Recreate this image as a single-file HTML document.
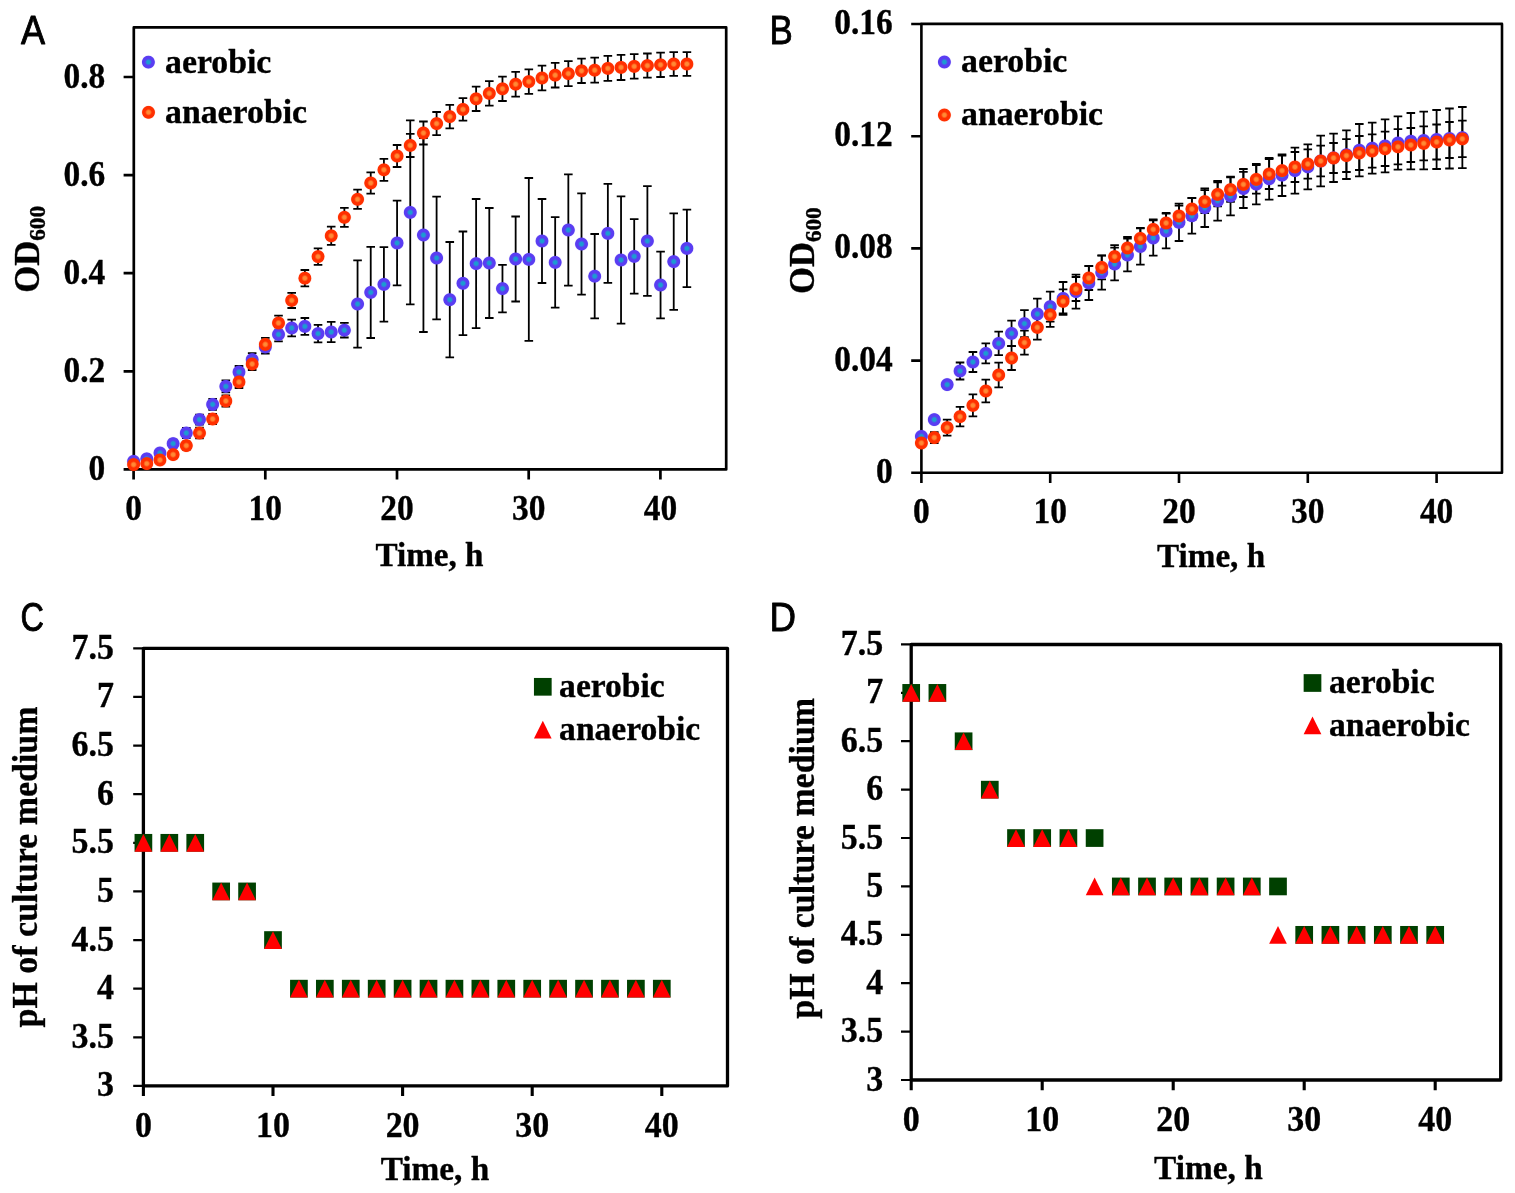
<!DOCTYPE html>
<html lang="en"><head><meta charset="utf-8">
<title>Growth curves and pH of culture medium under aerobic and anaerobic conditions</title>
<style>
html,body{margin:0;padding:0;background:#fff;}
body{width:1515px;height:1193px;overflow:hidden;}
svg{display:block;}
.tk{font-family:"Liberation Serif", "DejaVu Serif", serif;font-weight:bold;fill:#000;stroke:#000;stroke-width:0.35px;stroke-linejoin:round;}
.lb{font-family:"Liberation Sans", "DejaVu Sans", sans-serif;font-weight:normal;fill:#000;stroke:#000;stroke-width:0.9px;stroke-linejoin:round;stroke-linecap:round;}
</style></head><body>
<svg width="1515" height="1193" viewBox="0 0 1515 1193">
<defs>
<radialGradient id="gb" cx="0.5" cy="0.5" r="0.5">
<stop offset="0" stop-color="#189fd0" stop-opacity="1"/>
<stop offset="0.24" stop-color="#1e9ad2" stop-opacity="1"/>
<stop offset="0.5" stop-color="#5a3df2" stop-opacity="1"/>
<stop offset="0.86" stop-color="#5a3df2" stop-opacity="1"/>
<stop offset="1" stop-color="#5a3df2" stop-opacity="0.15"/>
</radialGradient>
<radialGradient id="go" cx="0.5" cy="0.5" r="0.5">
<stop offset="0" stop-color="#ff8c38" stop-opacity="1"/>
<stop offset="0.24" stop-color="#ff8632" stop-opacity="1"/>
<stop offset="0.5" stop-color="#ff3000" stop-opacity="1"/>
<stop offset="0.86" stop-color="#ff3000" stop-opacity="1"/>
<stop offset="1" stop-color="#ff3000" stop-opacity="0.15"/>
</radialGradient>
</defs>
<rect width="1515" height="1193" fill="#fff"/>
<g id="panelA">
<rect x="133.8" y="27.4" width="592.4" height="442" fill="none" stroke="#000" stroke-width="2.7" stroke-linejoin="round"/>
<path d="M133.6 469.4V479.6M265.3 469.4V479.6M397 469.4V479.6M528.7 469.4V479.6M660.4 469.4V479.6" fill="none" stroke="#000" stroke-width="2.7"/>
<path d="M133.8 469.4H123.6M133.8 371.3H123.6M133.8 273.2H123.6M133.8 175.1H123.6M133.8 77H123.6" fill="none" stroke="#000" stroke-width="2.7"/>
<g class="tk" text-anchor="middle" font-size="35">
<text transform="translate(133.6 519.5) scale(0.955 1)">0</text>
<text transform="translate(265.3 519.5) scale(0.955 1)">10</text>
<text transform="translate(397 519.5) scale(0.955 1)">20</text>
<text transform="translate(528.7 519.5) scale(0.955 1)">30</text>
<text transform="translate(660.4 519.5) scale(0.955 1)">40</text>
</g>
<g class="tk" text-anchor="end" font-size="35">
<text transform="translate(105.2 480) scale(0.955 1)">0</text>
<text transform="translate(105.2 381.9) scale(0.955 1)">0.2</text>
<text transform="translate(105.2 283.8) scale(0.955 1)">0.4</text>
<text transform="translate(105.2 185.7) scale(0.955 1)">0.6</text>
<text transform="translate(105.2 87.6) scale(0.955 1)">0.8</text>
</g>
<text class="tk" text-anchor="middle" font-size="33.5" transform="translate(429.5 566) scale(0.99 1)">Time, h</text>
<text class="tk" text-anchor="middle" font-size="35.5" transform="translate(38.5 249.3) rotate(-90) scale(0.975 1)">OD<tspan font-size="67%" dy="6.8">600</tspan></text>
<text class="lb" font-size="40.8" transform="translate(21.1 43.8) scale(0.885 1)">A</text>
<path d="M133.6 459.3V463.3M129.3 459.3H137.9M129.3 463.3H137.9M146.77 456.8V460.8M142.47 456.8H151.07M142.47 460.8H151.07M159.95 450V456M155.65 450H164.25M155.65 456H164.25M173.12 439.6V447.6M168.82 439.6H177.42M168.82 447.6H177.42M186.3 428V438M182 428H190.6M182 438H190.6M199.47 414.6V424.6M195.17 414.6H203.77M195.17 424.6H203.77M212.64 398.9V409.9M208.34 398.9H216.94M208.34 409.9H216.94M225.82 380.4V392.4M221.52 380.4H230.12M221.52 392.4H230.12M238.99 366V378M234.69 366H243.29M234.69 378H243.29M252.17 353.1V366.1M247.87 353.1H256.47M247.87 366.1H256.47M265.34 340.5V353.5M261.04 340.5H269.64M261.04 353.5H269.64M278.51 327.4V341.4M274.21 327.4H282.81M274.21 341.4H282.81M291.69 319.7V336.3M287.39 319.7H295.99M287.39 336.3H295.99M304.86 318V334.8M300.56 318H309.16M300.56 334.8H309.16M318.04 324.8V342.4M313.74 324.8H322.34M313.74 342.4H322.34M331.21 321.8V342.2M326.91 321.8H335.51M326.91 342.2H335.51M344.38 322.9V337.5M340.08 322.9H348.68M340.08 337.5H348.68M357.56 260.3V347.7M353.26 260.3H361.86M353.26 347.7H361.86M370.73 246.8V338M366.43 246.8H375.03M366.43 338H375.03M383.91 247.2V321.6M379.61 247.2H388.21M379.61 321.6H388.21M397.08 200.6V285.4M392.78 200.6H401.38M392.78 285.4H401.38M410.25 120.4V304.4M405.95 120.4H414.55M405.95 304.4H414.55M423.43 138V332M419.13 138H427.73M419.13 332H427.73M436.6 196.7V319.3M432.3 196.7H440.9M432.3 319.3H440.9M449.78 242V357.4M445.48 242H454.08M445.48 357.4H454.08M462.95 231.5V335.1M458.65 231.5H467.25M458.65 335.1H467.25M476.12 199V328.2M471.82 199H480.42M471.82 328.2H480.42M489.3 208V318M485 208H493.6M485 318H493.6M502.47 264.8V312.4M498.17 264.8H506.77M498.17 312.4H506.77M515.65 216.5V301.5M511.35 216.5H519.95M511.35 301.5H519.95M528.82 178V340.8M524.52 178H533.12M524.52 340.8H533.12M541.99 199V283M537.69 199H546.29M537.69 283H546.29M555.17 217.1V307.7M550.87 217.1H559.47M550.87 307.7H559.47M568.34 174.4V285.6M564.04 174.4H572.64M564.04 285.6H572.64M581.52 193.3V294.7M577.22 193.3H585.82M577.22 294.7H585.82M594.69 234V318.4M590.39 234H598.99M590.39 318.4H598.99M607.86 183.9V282.9M603.56 183.9H612.16M603.56 282.9H612.16M621.04 196.4V323.6M616.74 196.4H625.34M616.74 323.6H625.34M634.21 219.1V293.7M629.91 219.1H638.51M629.91 293.7H638.51M647.39 186.1V295.9M643.09 186.1H651.69M643.09 295.9H651.69M660.56 251.7V318.3M656.26 251.7H664.86M656.26 318.3H664.86M673.73 213.4V309.8M669.43 213.4H678.03M669.43 309.8H678.03M686.91 209.6V287.2M682.61 209.6H691.21M682.61 287.2H691.21" fill="none" stroke="#000" stroke-width="1.8"/>
<path d="M133.6 462.6V466.6M129.3 462.6H137.9M129.3 466.6H137.9M146.77 461.6V465.6M142.47 461.6H151.07M142.47 465.6H151.07M159.95 457.5V462.5M155.65 457.5H164.25M155.65 462.5H164.25M173.12 451.6V457.6M168.82 451.6H177.42M168.82 457.6H177.42M186.3 441.6V449.6M182 441.6H190.6M182 449.6H190.6M199.47 427.6V438.4M195.17 427.6H203.77M195.17 438.4H203.77M212.64 414V424M208.34 414H216.94M208.34 424H216.94M225.82 395.4V406.6M221.52 395.4H230.12M221.52 406.6H230.12M238.99 376V388M234.69 376H243.29M234.69 388H243.29M252.17 358V370M247.87 358H256.47M247.87 370H256.47M265.34 337.9V350.9M261.04 337.9H269.64M261.04 350.9H269.64M278.51 315.6V330.4M274.21 315.6H282.81M274.21 330.4H282.81M291.69 292.8V308M287.39 292.8H295.99M287.39 308H295.99M304.86 270V286.4M300.56 270H309.16M300.56 286.4H309.16M318.04 248.4V264.8M313.74 248.4H322.34M313.74 264.8H322.34M331.21 226.7V244.9M326.91 226.7H335.51M326.91 244.9H335.51M344.38 207.8V226.8M340.08 207.8H348.68M340.08 226.8H348.68M357.56 189.7V208.9M353.26 189.7H361.86M353.26 208.9H361.86M370.73 172.3V193.7M366.43 172.3H375.03M366.43 193.7H375.03M383.91 158.8V180.8M379.61 158.8H388.21M379.61 180.8H388.21M397.08 145V167M392.78 145H401.38M392.78 167H401.38M410.25 133.8V157M405.95 133.8H414.55M405.95 157H414.55M423.43 121.5V144.5M419.13 121.5H427.73M419.13 144.5H427.73M436.6 112V135.2M432.3 112H440.9M432.3 135.2H440.9M449.78 104.8V128.4M445.48 104.8H454.08M445.48 128.4H454.08M462.95 98.1V120.7M458.65 98.1H467.25M458.65 120.7H467.25M476.12 86.6V111M471.82 86.6H480.42M471.82 111H480.42M489.3 81.2V105.6M485 81.2H493.6M485 105.6H493.6M502.47 76.6V101M498.17 76.6H506.77M498.17 101H506.77M515.65 71.8V96.6M511.35 71.8H519.95M511.35 96.6H519.95M528.82 69.4V93.8M524.52 69.4H533.12M524.52 93.8H533.12M541.99 65.6V90.4M537.69 65.6H546.29M537.69 90.4H546.29M555.17 62.9V87.5M550.87 62.9H559.47M550.87 87.5H559.47M568.34 61.1V86.1M564.04 61.1H572.64M564.04 86.1H572.64M581.52 58.6V83M577.22 58.6H585.82M577.22 83H585.82M594.69 57.7V82.7M590.39 57.7H598.99M590.39 82.7H598.99M607.86 55.9V80.9M603.56 55.9H612.16M603.56 80.9H612.16M621.04 54.8V80M616.74 54.8H625.34M616.74 80H625.34M634.21 54.2V78.6M629.91 54.2H638.51M629.91 78.6H638.51M647.39 53.5V77.7M643.09 53.5H651.69M643.09 77.7H651.69M660.56 52.6V77M656.26 52.6H664.86M656.26 77H664.86M673.73 52.2V75.8M669.43 52.2H678.03M669.43 75.8H678.03M686.91 52.2V75.8M682.61 52.2H691.21M682.61 75.8H691.21" fill="none" stroke="#000" stroke-width="1.8"/>
<g fill="url(#gb)">
<circle cx="133.6" cy="461.3" r="6.9"/>
<circle cx="146.77" cy="458.8" r="6.9"/>
<circle cx="159.95" cy="453" r="6.9"/>
<circle cx="173.12" cy="443.6" r="6.9"/>
<circle cx="186.3" cy="433" r="6.9"/>
<circle cx="199.47" cy="419.6" r="6.9"/>
<circle cx="212.64" cy="404.4" r="6.9"/>
<circle cx="225.82" cy="386.4" r="6.9"/>
<circle cx="238.99" cy="372" r="6.9"/>
<circle cx="252.17" cy="359.6" r="6.9"/>
<circle cx="265.34" cy="347" r="6.9"/>
<circle cx="278.51" cy="334.4" r="6.9"/>
<circle cx="291.69" cy="328" r="6.9"/>
<circle cx="304.86" cy="326.4" r="6.9"/>
<circle cx="318.04" cy="333.6" r="6.9"/>
<circle cx="331.21" cy="332" r="6.9"/>
<circle cx="344.38" cy="330.2" r="6.9"/>
<circle cx="357.56" cy="304" r="6.9"/>
<circle cx="370.73" cy="292.4" r="6.9"/>
<circle cx="383.91" cy="284.4" r="6.9"/>
<circle cx="397.08" cy="243" r="6.9"/>
<circle cx="410.25" cy="212.4" r="6.9"/>
<circle cx="423.43" cy="235" r="6.9"/>
<circle cx="436.6" cy="258" r="6.9"/>
<circle cx="449.78" cy="299.7" r="6.9"/>
<circle cx="462.95" cy="283.3" r="6.9"/>
<circle cx="476.12" cy="263.6" r="6.9"/>
<circle cx="489.3" cy="263" r="6.9"/>
<circle cx="502.47" cy="288.6" r="6.9"/>
<circle cx="515.65" cy="259" r="6.9"/>
<circle cx="528.82" cy="259.4" r="6.9"/>
<circle cx="541.99" cy="241" r="6.9"/>
<circle cx="555.17" cy="262.4" r="6.9"/>
<circle cx="568.34" cy="230" r="6.9"/>
<circle cx="581.52" cy="244" r="6.9"/>
<circle cx="594.69" cy="276.2" r="6.9"/>
<circle cx="607.86" cy="233.4" r="6.9"/>
<circle cx="621.04" cy="260" r="6.9"/>
<circle cx="634.21" cy="256.4" r="6.9"/>
<circle cx="647.39" cy="241" r="6.9"/>
<circle cx="660.56" cy="285" r="6.9"/>
<circle cx="673.73" cy="261.6" r="6.9"/>
<circle cx="686.91" cy="248.4" r="6.9"/>
</g>
<g fill="url(#go)">
<circle cx="133.6" cy="464.6" r="6.9"/>
<circle cx="146.77" cy="463.6" r="6.9"/>
<circle cx="159.95" cy="460" r="6.9"/>
<circle cx="173.12" cy="454.6" r="6.9"/>
<circle cx="186.3" cy="445.6" r="6.9"/>
<circle cx="199.47" cy="433" r="6.9"/>
<circle cx="212.64" cy="419" r="6.9"/>
<circle cx="225.82" cy="401" r="6.9"/>
<circle cx="238.99" cy="382" r="6.9"/>
<circle cx="252.17" cy="364" r="6.9"/>
<circle cx="265.34" cy="344.4" r="6.9"/>
<circle cx="278.51" cy="323" r="6.9"/>
<circle cx="291.69" cy="300.4" r="6.9"/>
<circle cx="304.86" cy="278.2" r="6.9"/>
<circle cx="318.04" cy="256.6" r="6.9"/>
<circle cx="331.21" cy="235.8" r="6.9"/>
<circle cx="344.38" cy="217.3" r="6.9"/>
<circle cx="357.56" cy="199.3" r="6.9"/>
<circle cx="370.73" cy="183" r="6.9"/>
<circle cx="383.91" cy="169.8" r="6.9"/>
<circle cx="397.08" cy="156" r="6.9"/>
<circle cx="410.25" cy="145.4" r="6.9"/>
<circle cx="423.43" cy="133" r="6.9"/>
<circle cx="436.6" cy="123.6" r="6.9"/>
<circle cx="449.78" cy="116.6" r="6.9"/>
<circle cx="462.95" cy="109.4" r="6.9"/>
<circle cx="476.12" cy="98.8" r="6.9"/>
<circle cx="489.3" cy="93.4" r="6.9"/>
<circle cx="502.47" cy="88.8" r="6.9"/>
<circle cx="515.65" cy="84.2" r="6.9"/>
<circle cx="528.82" cy="81.6" r="6.9"/>
<circle cx="541.99" cy="78" r="6.9"/>
<circle cx="555.17" cy="75.2" r="6.9"/>
<circle cx="568.34" cy="73.6" r="6.9"/>
<circle cx="581.52" cy="70.8" r="6.9"/>
<circle cx="594.69" cy="70.2" r="6.9"/>
<circle cx="607.86" cy="68.4" r="6.9"/>
<circle cx="621.04" cy="67.4" r="6.9"/>
<circle cx="634.21" cy="66.4" r="6.9"/>
<circle cx="647.39" cy="65.6" r="6.9"/>
<circle cx="660.56" cy="64.8" r="6.9"/>
<circle cx="673.73" cy="64" r="6.9"/>
<circle cx="686.91" cy="64" r="6.9"/>
</g>
<circle cx="148.4" cy="62.1" r="6.9" fill="url(#gb)"/>
<text class="tk" font-size="33.3" transform="translate(165 72.7) scale(1.015 1)">aerobic</text>
<circle cx="148.5" cy="112.3" r="6.9" fill="url(#go)"/>
<text class="tk" font-size="33.3" transform="translate(165 123) scale(1.015 1)">anaerobic</text>
</g>
<g id="panelB">
<rect x="921.4" y="23.9" width="580.6" height="448.9" fill="none" stroke="#000" stroke-width="2.6" stroke-linejoin="round"/>
<path d="M921.4 472.8V483M1050.2 472.8V483M1179 472.8V483M1307.8 472.8V483M1436.6 472.8V483" fill="none" stroke="#000" stroke-width="2.6"/>
<path d="M921.4 472.8H911.2M921.4 360.6H911.2M921.4 248.4H911.2M921.4 136.2H911.2M921.4 24H911.2" fill="none" stroke="#000" stroke-width="2.6"/>
<g class="tk" text-anchor="middle" font-size="35">
<text transform="translate(921.4 522.7) scale(0.955 1)">0</text>
<text transform="translate(1050.2 522.7) scale(0.955 1)">10</text>
<text transform="translate(1179 522.7) scale(0.955 1)">20</text>
<text transform="translate(1307.8 522.7) scale(0.955 1)">30</text>
<text transform="translate(1436.6 522.7) scale(0.955 1)">40</text>
</g>
<g class="tk" text-anchor="end" font-size="35">
<text transform="translate(892.8 482.8) scale(0.955 1)">0</text>
<text transform="translate(892.8 370.6) scale(0.955 1)">0.04</text>
<text transform="translate(892.8 258.4) scale(0.955 1)">0.08</text>
<text transform="translate(892.8 146.2) scale(0.955 1)">0.12</text>
<text transform="translate(892.8 34) scale(0.955 1)">0.16</text>
</g>
<text class="tk" text-anchor="middle" font-size="33.5" transform="translate(1211.1 567.1) scale(0.99 1)">Time, h</text>
<text class="tk" text-anchor="middle" font-size="35.5" transform="translate(814.2 250.7) rotate(-90) scale(0.975 1)">OD<tspan font-size="67%" dy="6.8">600</tspan></text>
<text class="lb" font-size="40.8" transform="translate(769.5 43.5) scale(0.855 1)">B</text>
<path d="M960.04 362.5V379.5M955.74 362.5H964.34M955.74 379.5H964.34M972.92 352V372M968.62 352H977.22M968.62 372H977.22M985.8 343.4V363.4M981.5 343.4H990.1M981.5 363.4H990.1M998.68 331.7V355.1M994.38 331.7H1002.98M994.38 355.1H1002.98M1011.56 320.7V346.1M1007.26 320.7H1015.86M1007.26 346.1H1015.86M1024.44 310.1V337.1M1020.14 310.1H1028.74M1020.14 337.1H1028.74M1037.32 298.6V329.4M1033.02 298.6H1041.62M1033.02 329.4H1041.62M1050.2 291.6V321.6M1045.9 291.6H1054.5M1045.9 321.6H1054.5M1063.08 282V314.8M1058.78 282H1067.38M1058.78 314.8H1067.38M1075.96 274.6V308.6M1071.66 274.6H1080.26M1071.66 308.6H1080.26M1088.84 266V300M1084.54 266H1093.14M1084.54 300H1093.14M1101.72 255.6V289.6M1097.42 255.6H1106.02M1097.42 289.6H1106.02M1114.6 247.6V280.4M1110.3 247.6H1118.9M1110.3 280.4H1118.9M1127.48 238.6V271.4M1123.18 238.6H1131.78M1123.18 271.4H1131.78M1140.36 228.4V264.6M1136.06 228.4H1144.66M1136.06 264.6H1144.66M1153.24 220.4V255.6M1148.94 220.4H1157.54M1148.94 255.6H1157.54M1166.12 213.6V248.4M1161.82 213.6H1170.42M1161.82 248.4H1170.42M1179 203.6V241M1174.7 203.6H1183.3M1174.7 241H1183.3M1191.88 198V233.6M1187.58 198H1196.18M1187.58 233.6H1196.18M1204.76 188.4V227M1200.46 188.4H1209.06M1200.46 227H1209.06M1217.64 181V220.6M1213.34 181H1221.94M1213.34 220.6H1221.94M1230.52 176.6V215.4M1226.22 176.6H1234.82M1226.22 215.4H1234.82M1243.4 169V208M1239.1 169H1247.7M1239.1 208H1247.7M1256.28 164V204.4M1251.98 164H1260.58M1251.98 204.4H1260.58M1269.16 158V199.6M1264.86 158H1273.46M1264.86 199.6H1273.46M1282.04 154.4V196M1277.74 154.4H1286.34M1277.74 196H1286.34M1294.92 147.6V193.6M1290.62 147.6H1299.22M1290.62 193.6H1299.22M1307.8 144.4V189.4M1303.5 144.4H1312.1M1303.5 189.4H1312.1M1320.68 135.6V186.4M1316.38 135.6H1324.98M1316.38 186.4H1324.98M1333.56 133.6V182M1329.26 133.6H1337.86M1329.26 182H1337.86M1346.44 130.4V179M1342.14 130.4H1350.74M1342.14 179H1350.74M1359.32 124V176.4M1355.02 124H1363.62M1355.02 176.4H1363.62M1372.2 122.6V173.6M1367.9 122.6H1376.5M1367.9 173.6H1376.5M1385.08 119.4V172.4M1380.78 119.4H1389.38M1380.78 172.4H1389.38M1397.96 116.4V169.6M1393.66 116.4H1402.26M1393.66 169.6H1402.26M1410.84 113V169.4M1406.54 113H1415.14M1406.54 169.4H1415.14M1423.72 111.6V169.4M1419.42 111.6H1428.02M1419.42 169.4H1428.02M1436.6 110V169M1432.3 110H1440.9M1432.3 169H1440.9M1449.48 108.5V168.5M1445.18 108.5H1453.78M1445.18 168.5H1453.78M1462.36 107V168.2M1458.06 107H1466.66M1458.06 168.2H1466.66" fill="none" stroke="#000" stroke-width="1.8"/>
<path d="M921.4 441V445M917.1 441H925.7M917.1 445H925.7M934.28 432.1V443.1M929.98 432.1H938.58M929.98 443.1H938.58M947.16 419.6V435.6M942.86 419.6H951.46M942.86 435.6H951.46M960.04 406.9V426.3M955.74 406.9H964.34M955.74 426.3H964.34M972.92 394.4V416.4M968.62 394.4H977.22M968.62 416.4H977.22M985.8 379.6V402.4M981.5 379.6H990.1M981.5 402.4H990.1M998.68 362.7V387.3M994.38 362.7H1002.98M994.38 387.3H1002.98M1011.56 346V370M1007.26 346H1015.86M1007.26 370H1015.86M1024.44 330.6V354.6M1020.14 330.6H1028.74M1020.14 354.6H1028.74M1037.32 315.2V339.6M1033.02 315.2H1041.62M1033.02 339.6H1041.62M1050.2 302.8V326.8M1045.9 302.8H1054.5M1045.9 326.8H1054.5M1063.08 289.4V313.4M1058.78 289.4H1067.38M1058.78 313.4H1067.38M1075.96 277V301M1071.66 277H1080.26M1071.66 301H1080.26M1088.84 266V290M1084.54 266H1093.14M1084.54 290H1093.14M1101.72 255.4V279.4M1097.42 255.4H1106.02M1097.42 279.4H1106.02M1114.6 245.1V268.1M1110.3 245.1H1118.9M1110.3 268.1H1118.9M1127.48 237V259M1123.18 237H1131.78M1123.18 259H1131.78M1140.36 227.9V248.9M1136.06 227.9H1144.66M1136.06 248.9H1144.66M1153.24 219.4V239.4M1148.94 219.4H1157.54M1148.94 239.4H1157.54M1166.12 213V233M1161.82 213H1170.42M1161.82 233H1170.42M1179 205.6V226.4M1174.7 205.6H1183.3M1174.7 226.4H1183.3M1191.88 198V220M1187.58 198H1196.18M1187.58 220H1196.18M1204.76 190.1V213.1M1200.46 190.1H1209.06M1200.46 213.1H1209.06M1217.64 182.4V206.4M1213.34 182.4H1221.94M1213.34 206.4H1221.94M1230.52 177.3V201.9M1226.22 177.3H1234.82M1226.22 201.9H1234.82M1243.4 171.8V197M1239.1 171.8H1247.7M1239.1 197H1247.7M1256.28 165.2V193.6M1251.98 165.2H1260.58M1251.98 193.6H1260.58M1269.16 159V189M1264.86 159H1273.46M1264.86 189H1273.46M1282.04 155.6V185.6M1277.74 155.6H1286.34M1277.74 185.6H1286.34M1294.92 152V182M1290.62 152H1299.22M1290.62 182H1299.22M1307.8 149.4V178.6M1303.5 149.4H1312.1M1303.5 178.6H1312.1M1320.68 145.6V176.4M1316.38 145.6H1324.98M1316.38 176.4H1324.98M1333.56 143V173M1329.26 143H1337.86M1329.26 173H1337.86M1346.44 139.2V172M1342.14 139.2H1350.74M1342.14 172H1350.74M1359.32 136V170M1355.02 136H1363.62M1355.02 170H1363.62M1372.2 134.4V167.6M1367.9 134.4H1376.5M1367.9 167.6H1376.5M1385.08 131.6V166M1380.78 131.6H1389.38M1380.78 166H1389.38M1397.96 129.2V164.4M1393.66 129.2H1402.26M1393.66 164.4H1402.26M1410.84 128V162M1406.54 128H1415.14M1406.54 162H1415.14M1423.72 126.4V160.4M1419.42 126.4H1428.02M1419.42 160.4H1428.02M1436.6 124.5V159.5M1432.3 124.5H1440.9M1432.3 159.5H1440.9M1449.48 122V158M1445.18 122H1453.78M1445.18 158H1453.78M1462.36 120.7V157.1M1458.06 120.7H1466.66M1458.06 157.1H1466.66" fill="none" stroke="#000" stroke-width="1.8"/>
<g fill="url(#gb)">
<circle cx="921.4" cy="436.4" r="6.9"/>
<circle cx="934.28" cy="419.6" r="6.9"/>
<circle cx="947.16" cy="384.6" r="6.9"/>
<circle cx="960.04" cy="371" r="6.9"/>
<circle cx="972.92" cy="362" r="6.9"/>
<circle cx="985.8" cy="353.4" r="6.9"/>
<circle cx="998.68" cy="343.4" r="6.9"/>
<circle cx="1011.56" cy="333.4" r="6.9"/>
<circle cx="1024.44" cy="323.6" r="6.9"/>
<circle cx="1037.32" cy="314" r="6.9"/>
<circle cx="1050.2" cy="306.6" r="6.9"/>
<circle cx="1063.08" cy="298.4" r="6.9"/>
<circle cx="1075.96" cy="291.6" r="6.9"/>
<circle cx="1088.84" cy="283" r="6.9"/>
<circle cx="1101.72" cy="272.6" r="6.9"/>
<circle cx="1114.6" cy="264" r="6.9"/>
<circle cx="1127.48" cy="255" r="6.9"/>
<circle cx="1140.36" cy="246.5" r="6.9"/>
<circle cx="1153.24" cy="238" r="6.9"/>
<circle cx="1166.12" cy="231" r="6.9"/>
<circle cx="1179" cy="222.3" r="6.9"/>
<circle cx="1191.88" cy="215.8" r="6.9"/>
<circle cx="1204.76" cy="207.7" r="6.9"/>
<circle cx="1217.64" cy="200.8" r="6.9"/>
<circle cx="1230.52" cy="196" r="6.9"/>
<circle cx="1243.4" cy="188.5" r="6.9"/>
<circle cx="1256.28" cy="184.2" r="6.9"/>
<circle cx="1269.16" cy="178.8" r="6.9"/>
<circle cx="1282.04" cy="175.2" r="6.9"/>
<circle cx="1294.92" cy="170.6" r="6.9"/>
<circle cx="1307.8" cy="166.9" r="6.9"/>
<circle cx="1320.68" cy="161" r="6.9"/>
<circle cx="1333.56" cy="157.8" r="6.9"/>
<circle cx="1346.44" cy="154.7" r="6.9"/>
<circle cx="1359.32" cy="150.2" r="6.9"/>
<circle cx="1372.2" cy="148.1" r="6.9"/>
<circle cx="1385.08" cy="145.9" r="6.9"/>
<circle cx="1397.96" cy="143" r="6.9"/>
<circle cx="1410.84" cy="141.2" r="6.9"/>
<circle cx="1423.72" cy="140.5" r="6.9"/>
<circle cx="1436.6" cy="139.5" r="6.9"/>
<circle cx="1449.48" cy="138.5" r="6.9"/>
<circle cx="1462.36" cy="137.6" r="6.9"/>
</g>
<g fill="url(#go)">
<circle cx="921.4" cy="443" r="6.9"/>
<circle cx="934.28" cy="437.6" r="6.9"/>
<circle cx="947.16" cy="427.6" r="6.9"/>
<circle cx="960.04" cy="416.6" r="6.9"/>
<circle cx="972.92" cy="405.4" r="6.9"/>
<circle cx="985.8" cy="391" r="6.9"/>
<circle cx="998.68" cy="375" r="6.9"/>
<circle cx="1011.56" cy="358" r="6.9"/>
<circle cx="1024.44" cy="342.6" r="6.9"/>
<circle cx="1037.32" cy="327.4" r="6.9"/>
<circle cx="1050.2" cy="314.8" r="6.9"/>
<circle cx="1063.08" cy="301.4" r="6.9"/>
<circle cx="1075.96" cy="289" r="6.9"/>
<circle cx="1088.84" cy="278" r="6.9"/>
<circle cx="1101.72" cy="267.4" r="6.9"/>
<circle cx="1114.6" cy="256.6" r="6.9"/>
<circle cx="1127.48" cy="248" r="6.9"/>
<circle cx="1140.36" cy="238.4" r="6.9"/>
<circle cx="1153.24" cy="229.4" r="6.9"/>
<circle cx="1166.12" cy="223" r="6.9"/>
<circle cx="1179" cy="216" r="6.9"/>
<circle cx="1191.88" cy="209" r="6.9"/>
<circle cx="1204.76" cy="201.6" r="6.9"/>
<circle cx="1217.64" cy="194.4" r="6.9"/>
<circle cx="1230.52" cy="189.6" r="6.9"/>
<circle cx="1243.4" cy="184.4" r="6.9"/>
<circle cx="1256.28" cy="179.4" r="6.9"/>
<circle cx="1269.16" cy="174" r="6.9"/>
<circle cx="1282.04" cy="170.6" r="6.9"/>
<circle cx="1294.92" cy="167" r="6.9"/>
<circle cx="1307.8" cy="164" r="6.9"/>
<circle cx="1320.68" cy="161" r="6.9"/>
<circle cx="1333.56" cy="158" r="6.9"/>
<circle cx="1346.44" cy="155.6" r="6.9"/>
<circle cx="1359.32" cy="153" r="6.9"/>
<circle cx="1372.2" cy="151" r="6.9"/>
<circle cx="1385.08" cy="148.8" r="6.9"/>
<circle cx="1397.96" cy="146.8" r="6.9"/>
<circle cx="1410.84" cy="145" r="6.9"/>
<circle cx="1423.72" cy="143.4" r="6.9"/>
<circle cx="1436.6" cy="142" r="6.9"/>
<circle cx="1449.48" cy="140" r="6.9"/>
<circle cx="1462.36" cy="138.9" r="6.9"/>
</g>
<circle cx="944.4" cy="62" r="6.9" fill="url(#gb)"/>
<text class="tk" font-size="33.3" transform="translate(961 72.4) scale(1.015 1)">aerobic</text>
<circle cx="944.4" cy="115" r="6.9" fill="url(#go)"/>
<text class="tk" font-size="33.3" transform="translate(961 124.6) scale(1.015 1)">anaerobic</text>
</g>
<g id="panelC">
<rect x="143.4" y="648.3" width="584.1" height="437.6" fill="none" stroke="#000" stroke-width="3.3" stroke-linejoin="round"/>
<path d="M143.4 1085.9V1096.1M273 1085.9V1096.1M402.6 1085.9V1096.1M532.2 1085.9V1096.1M661.8 1085.9V1096.1" fill="none" stroke="#000" stroke-width="3.1"/>
<path d="M143.4 1085.9H133.2M143.4 1037.28H133.2M143.4 988.66H133.2M143.4 940.03H133.2M143.4 891.41H133.2M143.4 842.79H133.2M143.4 794.17H133.2M143.4 745.54H133.2M143.4 696.92H133.2M143.4 648.3H133.2" fill="none" stroke="#000" stroke-width="2.2"/>
<g class="tk" text-anchor="middle" font-size="34.8">
<text transform="translate(143.4 1136.7) scale(0.975 1)">0</text>
<text transform="translate(273 1136.7) scale(0.975 1)">10</text>
<text transform="translate(402.6 1136.7) scale(0.975 1)">20</text>
<text transform="translate(532.2 1136.7) scale(0.975 1)">30</text>
<text transform="translate(661.8 1136.7) scale(0.975 1)">40</text>
</g>
<g class="tk" text-anchor="end" font-size="34.8">
<text transform="translate(114 1096.4) scale(0.975 1)">3</text>
<text transform="translate(114 1047.78) scale(0.975 1)">3.5</text>
<text transform="translate(114 999.16) scale(0.975 1)">4</text>
<text transform="translate(114 950.53) scale(0.975 1)">4.5</text>
<text transform="translate(114 901.91) scale(0.975 1)">5</text>
<text transform="translate(114 853.29) scale(0.975 1)">5.5</text>
<text transform="translate(114 804.67) scale(0.975 1)">6</text>
<text transform="translate(114 756.04) scale(0.975 1)">6.5</text>
<text transform="translate(114 707.42) scale(0.975 1)">7</text>
<text transform="translate(114 658.8) scale(0.975 1)">7.5</text>
</g>
<text class="tk" text-anchor="middle" font-size="33.5" transform="translate(435 1180.3) scale(0.995 1)">Time, h</text>
<text class="tk" text-anchor="middle" font-size="35.1" transform="translate(37.1 867) rotate(-90) scale(0.9675 1)">pH of culture medium</text>
<text class="lb" font-size="40.8" transform="translate(20.55 630.5) scale(0.795 1)">C</text>
<g fill="#004000">
<rect x="134.55" y="833.95" width="17.7" height="17.7"/>
<rect x="160.47" y="833.95" width="17.7" height="17.7"/>
<rect x="186.39" y="833.95" width="17.7" height="17.7"/>
<rect x="212.31" y="882.57" width="17.7" height="17.7"/>
<rect x="238.23" y="882.57" width="17.7" height="17.7"/>
<rect x="264.15" y="931.19" width="17.7" height="17.7"/>
<rect x="290.07" y="979.81" width="17.7" height="17.7"/>
<rect x="315.99" y="979.81" width="17.7" height="17.7"/>
<rect x="341.91" y="979.81" width="17.7" height="17.7"/>
<rect x="367.83" y="979.81" width="17.7" height="17.7"/>
<rect x="393.75" y="979.81" width="17.7" height="17.7"/>
<rect x="419.67" y="979.81" width="17.7" height="17.7"/>
<rect x="445.59" y="979.81" width="17.7" height="17.7"/>
<rect x="471.51" y="979.81" width="17.7" height="17.7"/>
<rect x="497.43" y="979.81" width="17.7" height="17.7"/>
<rect x="523.35" y="979.81" width="17.7" height="17.7"/>
<rect x="549.27" y="979.81" width="17.7" height="17.7"/>
<rect x="575.19" y="979.81" width="17.7" height="17.7"/>
<rect x="601.11" y="979.81" width="17.7" height="17.7"/>
<rect x="627.03" y="979.81" width="17.7" height="17.7"/>
<rect x="652.95" y="979.81" width="17.7" height="17.7"/>
</g>
<g fill="#ff0000">
<path d="M143.4 833.95L152.25 851.65H134.55Z"/>
<path d="M169.32 833.95L178.17 851.65H160.47Z"/>
<path d="M195.24 833.95L204.09 851.65H186.39Z"/>
<path d="M221.16 882.57L230.01 900.27H212.31Z"/>
<path d="M247.08 882.57L255.93 900.27H238.23Z"/>
<path d="M273 931.19L281.85 948.89H264.15Z"/>
<path d="M298.92 979.81L307.77 997.51H290.07Z"/>
<path d="M324.84 979.81L333.69 997.51H315.99Z"/>
<path d="M350.76 979.81L359.61 997.51H341.91Z"/>
<path d="M376.68 979.81L385.53 997.51H367.83Z"/>
<path d="M402.6 979.81L411.45 997.51H393.75Z"/>
<path d="M428.52 979.81L437.37 997.51H419.67Z"/>
<path d="M454.44 979.81L463.29 997.51H445.59Z"/>
<path d="M480.36 979.81L489.21 997.51H471.51Z"/>
<path d="M506.28 979.81L515.13 997.51H497.43Z"/>
<path d="M532.2 979.81L541.05 997.51H523.35Z"/>
<path d="M558.12 979.81L566.97 997.51H549.27Z"/>
<path d="M584.04 979.81L592.89 997.51H575.19Z"/>
<path d="M609.96 979.81L618.81 997.51H601.11Z"/>
<path d="M635.88 979.81L644.73 997.51H627.03Z"/>
<path d="M661.8 979.81L670.65 997.51H652.95Z"/>
</g>
<rect x="533.95" y="677.95" width="17.7" height="17.7" fill="#004000"/>
<text class="tk" font-size="33" transform="translate(559.1 697) scale(1.0175 1)">aerobic</text>
<path d="M542.8 720.85L551.65 738.55H533.95Z" fill="#ff0000"/>
<text class="tk" font-size="33" transform="translate(559.1 740.1) scale(1.0175 1)">anaerobic</text>
</g>
<g id="panelD">
<rect x="911.2" y="644.5" width="589.5" height="435.5" fill="none" stroke="#000" stroke-width="3.3" stroke-linejoin="round"/>
<path d="M911.2 1080V1090.2M1042.2 1080V1090.2M1173.2 1080V1090.2M1304.2 1080V1090.2M1435.2 1080V1090.2" fill="none" stroke="#000" stroke-width="3.1"/>
<path d="M911.2 1080H901M911.2 1031.6H901M911.2 983.2H901M911.2 934.8H901M911.2 886.4H901M911.2 838H901M911.2 789.6H901M911.2 741.2H901M911.2 692.8H901M911.2 644.4H901" fill="none" stroke="#000" stroke-width="2.2"/>
<g class="tk" text-anchor="middle" font-size="34.8">
<text transform="translate(911.2 1130.9) scale(0.975 1)">0</text>
<text transform="translate(1042.2 1130.9) scale(0.975 1)">10</text>
<text transform="translate(1173.2 1130.9) scale(0.975 1)">20</text>
<text transform="translate(1304.2 1130.9) scale(0.975 1)">30</text>
<text transform="translate(1435.2 1130.9) scale(0.975 1)">40</text>
</g>
<g class="tk" text-anchor="end" font-size="34.8">
<text transform="translate(883.2 1090.5) scale(0.975 1)">3</text>
<text transform="translate(883.2 1042.1) scale(0.975 1)">3.5</text>
<text transform="translate(883.2 993.7) scale(0.975 1)">4</text>
<text transform="translate(883.2 945.3) scale(0.975 1)">4.5</text>
<text transform="translate(883.2 896.9) scale(0.975 1)">5</text>
<text transform="translate(883.2 848.5) scale(0.975 1)">5.5</text>
<text transform="translate(883.2 800.1) scale(0.975 1)">6</text>
<text transform="translate(883.2 751.7) scale(0.975 1)">6.5</text>
<text transform="translate(883.2 703.3) scale(0.975 1)">7</text>
<text transform="translate(883.2 654.9) scale(0.975 1)">7.5</text>
</g>
<text class="tk" text-anchor="middle" font-size="33.5" transform="translate(1208.4 1179) scale(0.995 1)">Time, h</text>
<text class="tk" text-anchor="middle" font-size="35.1" transform="translate(813.5 858.3) rotate(-90) scale(0.9675 1)">pH of culture medium</text>
<text class="lb" font-size="40.8" transform="translate(769.4 630.6) scale(0.9 1)">D</text>
<g fill="#004000">
<rect x="902.35" y="684.03" width="17.7" height="17.7"/>
<rect x="928.55" y="684.03" width="17.7" height="17.7"/>
<rect x="954.75" y="732.42" width="17.7" height="17.7"/>
<rect x="980.95" y="780.81" width="17.7" height="17.7"/>
<rect x="1007.15" y="829.2" width="17.7" height="17.7"/>
<rect x="1033.35" y="829.2" width="17.7" height="17.7"/>
<rect x="1059.55" y="829.2" width="17.7" height="17.7"/>
<rect x="1085.75" y="829.2" width="17.7" height="17.7"/>
<rect x="1111.95" y="877.59" width="17.7" height="17.7"/>
<rect x="1138.15" y="877.59" width="17.7" height="17.7"/>
<rect x="1164.35" y="877.59" width="17.7" height="17.7"/>
<rect x="1190.55" y="877.59" width="17.7" height="17.7"/>
<rect x="1216.75" y="877.59" width="17.7" height="17.7"/>
<rect x="1242.95" y="877.59" width="17.7" height="17.7"/>
<rect x="1269.15" y="877.59" width="17.7" height="17.7"/>
<rect x="1295.35" y="925.98" width="17.7" height="17.7"/>
<rect x="1321.55" y="925.98" width="17.7" height="17.7"/>
<rect x="1347.75" y="925.98" width="17.7" height="17.7"/>
<rect x="1373.95" y="925.98" width="17.7" height="17.7"/>
<rect x="1400.15" y="925.98" width="17.7" height="17.7"/>
<rect x="1426.35" y="925.98" width="17.7" height="17.7"/>
</g>
<g fill="#ff0000">
<path d="M911.2 684.03L920.05 701.73H902.35Z"/>
<path d="M937.4 684.03L946.25 701.73H928.55Z"/>
<path d="M963.6 732.42L972.45 750.12H954.75Z"/>
<path d="M989.8 780.81L998.65 798.51H980.95Z"/>
<path d="M1016 829.2L1024.85 846.9H1007.15Z"/>
<path d="M1042.2 829.2L1051.05 846.9H1033.35Z"/>
<path d="M1068.4 829.2L1077.25 846.9H1059.55Z"/>
<path d="M1094.6 877.59L1103.45 895.29H1085.75Z"/>
<path d="M1120.8 877.59L1129.65 895.29H1111.95Z"/>
<path d="M1147 877.59L1155.85 895.29H1138.15Z"/>
<path d="M1173.2 877.59L1182.05 895.29H1164.35Z"/>
<path d="M1199.4 877.59L1208.25 895.29H1190.55Z"/>
<path d="M1225.6 877.59L1234.45 895.29H1216.75Z"/>
<path d="M1251.8 877.59L1260.65 895.29H1242.95Z"/>
<path d="M1278 925.98L1286.85 943.68H1269.15Z"/>
<path d="M1304.2 925.98L1313.05 943.68H1295.35Z"/>
<path d="M1330.4 925.98L1339.25 943.68H1321.55Z"/>
<path d="M1356.6 925.98L1365.45 943.68H1347.75Z"/>
<path d="M1382.8 925.98L1391.65 943.68H1373.95Z"/>
<path d="M1409 925.98L1417.85 943.68H1400.15Z"/>
<path d="M1435.2 925.98L1444.05 943.68H1426.35Z"/>
</g>
<rect x="1303.65" y="674.15" width="17.7" height="17.7" fill="#004000"/>
<text class="tk" font-size="33" transform="translate(1329 693.4) scale(1.017 1)">aerobic</text>
<path d="M1312.5 716.55L1321.35 734.25H1303.65Z" fill="#ff0000"/>
<text class="tk" font-size="33" transform="translate(1329 736.2) scale(1.017 1)">anaerobic</text>
</g>
</svg>
</body></html>
